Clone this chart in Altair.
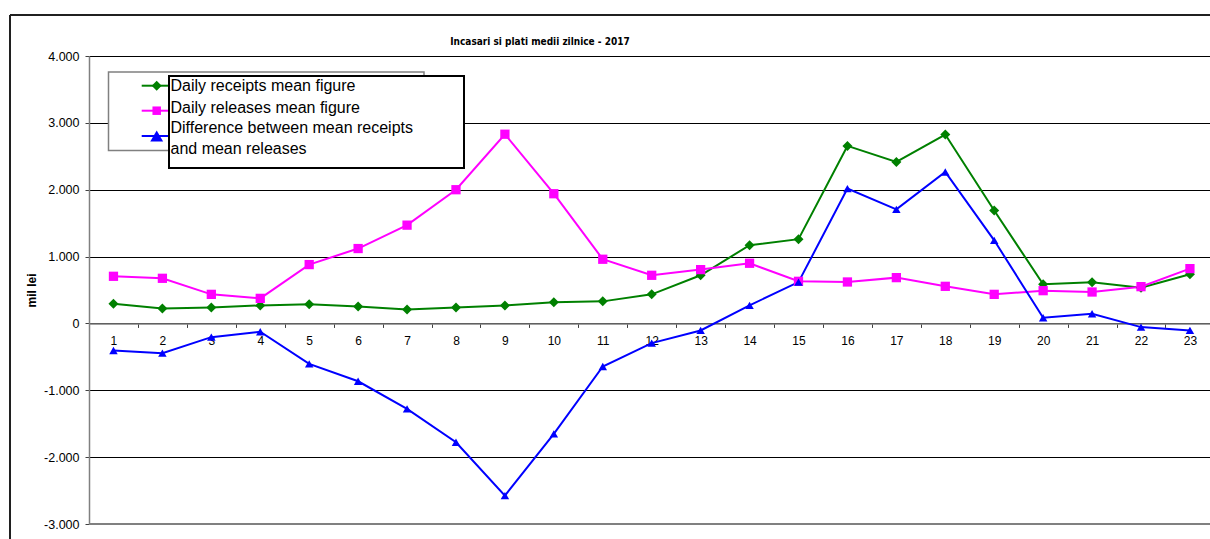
import altair as alt
import pandas as pd

# ---- data -------------------------------------------------------------
days = list(range(1, 24))
receipts = [295, 225, 240, 270, 285, 255, 210, 240, 270, 315, 330, 435,
            720, 1170, 1260, 2655, 2415, 2825, 1690, 585, 615, 535, 735]
releases = [705, 675, 435, 375, 880, 1120, 1470, 2000, 2830, 1940, 960, 720,
            805, 900, 630, 620, 685, 555, 435, 490, 470, 550, 820]
difference = [-405, -445, -205, -125, -605, -865, -1277, -1777, -2575, -1651, -644, -295,
              -105, 270, 618, 2016, 1707, 2265, 1243, 85, 145, -55, -105]

series_names = ["Daily receipts mean figure",
                "Daily releases mean figure",
                "Difference between mean receipts and mean releases"]
series_colors = ["#008000", "#FF00FF", "#0000FF"]
series_shapes = ["diamond", "square", "triangle-up"]
series_sizes = [100, 72, 165]
legend_lines = ["Daily receipts mean figure",
                "Daily releases mean figure",
                "Difference between mean receipts",
                "and mean releases"]
chart_title = "Incasari si plati medii zilnice - 2017"
y_title = "mil lei"
y_ticks = list(range(-3000, 4001, 1000))

rows = []
for name, values in zip(series_names, [receipts, releases, difference]):
    for d, v in zip(days, values):
        rows.append({"day": d, "value": v, "series": name})
df = pd.DataFrame(rows)

# ---- geometry ---------------------------------------------------------
W, H = 1121, 468
x_lo, x_hi = 0.5, 23.41
half_band = W / (x_hi - x_lo) / 2
zero_px = H * 4000 / 7000
FONT = "Liberation Sans"
TITLE_FONT = "Liberation Sans Narrow, DejaVu Sans Condensed, Liberation Sans"

x_scale = alt.Scale(domain=[x_lo, x_hi], nice=False, zero=False)
y_scale = alt.Scale(domain=[-3000, 4000], nice=False, zero=False)
color_scale = alt.Scale(domain=series_names, range=series_colors)
shape_scale = alt.Scale(domain=series_names, range=series_shapes)
size_scale = alt.Scale(domain=series_names, range=series_sizes)

x_axis = alt.Axis(values=days, tickOffset=half_band, labelOffset=-half_band,
                  offset=-(H - zero_px), grid=False,
                  domainColor="#808080", domainWidth=1.5,
                  tickColor="#404040", tickSize=4,
                  labelPadding=8, labelFont=FONT, labelFontSize=12,
                  labelColor="black", labelFlush=False, labelOverlap=False,
                  title=None)

y_axis = alt.Axis(values=y_ticks, grid=True, gridColor="#000000", gridWidth=1,
                  domainColor="#808080", domainWidth=1.5,
                  tickColor="#404040", tickSize=4,
                  labelPadding=6, labelFont=FONT, labelFontSize=12.5,
                  labelColor="black",
                  labelExpr="datum.value == 0 ? '0' : (datum.value < 0 ? '-' : '') + "
                            "format(abs(datum.value) / 1000, 'd') + '.000'",
                  title=y_title, titleFont=FONT, titleFontSize=12,
                  titleFontWeight="bold", titleColor="black",
                  titleAngle=270, titleX=-58, titleY=H / 2,
                  titleAlign="center", titleBaseline="middle")

base = alt.Chart(df).encode(
    x=alt.X("day:Q", scale=x_scale, axis=x_axis),
    y=alt.Y("value:Q", scale=y_scale, axis=y_axis),
    color=alt.Color("series:N", scale=color_scale, legend=None),
)

lines = base.mark_line(strokeWidth=2).encode(detail="series:N")
points = base.mark_point(filled=True, opacity=1).encode(
    shape=alt.Shape("series:N", scale=shape_scale, legend=None),
    size=alt.Size("series:N", scale=size_scale, legend=None),
)

one = alt.Data(values=[{}])


def hrule(x1, x2, y, color, width):
    return alt.Chart(one).mark_rule(color=color, strokeWidth=width).encode(
        x=alt.value(x1), x2=alt.value(x2), y=alt.value(y))


def vrule(x, y1, y2, color, width):
    return alt.Chart(one).mark_rule(color=color, strokeWidth=width).encode(
        x=alt.value(x), y=alt.value(y1), y2=alt.value(y2))


def box(x1, x2, y1, y2, stroke, width):
    return alt.Chart(one).mark_rect(fill="white", stroke=stroke, strokeWidth=width).encode(
        x=alt.value(x1), x2=alt.value(x2), y=alt.value(y1), y2=alt.value(y2))


def label(text, x, y, size, weight="normal", font=FONT, align="left", baseline="alphabetic"):
    return alt.Chart(one).mark_text(text=text, font=font, fontSize=size, fontWeight=weight,
                                    color="black", align=align, baseline=baseline).encode(
        x=alt.value(x), y=alt.value(y))


# outer chart frame and bottom edge of the plot area
frame = [
    hrule(-79, W + 10, -41, "#202020", 2),
    vrule(-79, -41, H + 20, "#202020", 2),
    hrule(0, W, H, "#808080", 2),
]

title = label(chart_title, 451, -11, 10, weight="bold",
              font=TITLE_FONT, align="center")

# legend: grey outer box, series samples, black-framed text box on top
legend_parts = [box(19.5, 335, 16, 94.5, "#808080", 1.5)]
for i, (col, shp, sz) in enumerate(zip(series_colors, series_shapes, series_sizes)):
    ly = [29.7, 54.7, 80][i]
    legend_parts.append(hrule(52.7, 80, ly, col, 2))
    legend_parts.append(
        alt.Chart(one).mark_point(filled=True, opacity=1, color=col, shape=shp, size=sz)
        .encode(x=alt.value(67.7), y=alt.value(ly)))
legend_parts.append(box(80, 375, 20, 112, "#000000", 2))
for txt, by in zip(legend_lines, [35, 56.5, 76.5, 97.5]):
    legend_parts.append(label(txt, 81.5, by, 16))

chart = alt.layer(lines, points, *frame, title, *legend_parts).properties(
    width=W, height=H,
    padding={"left": 89, "top": 56, "right": 0, "bottom": 15},
    autosize=alt.AutoSizeParams(type="none"),
    background="white",
).configure_view(stroke=None)

chart.save("out.html", embed_options={"renderer": "svg", "actions": False})
